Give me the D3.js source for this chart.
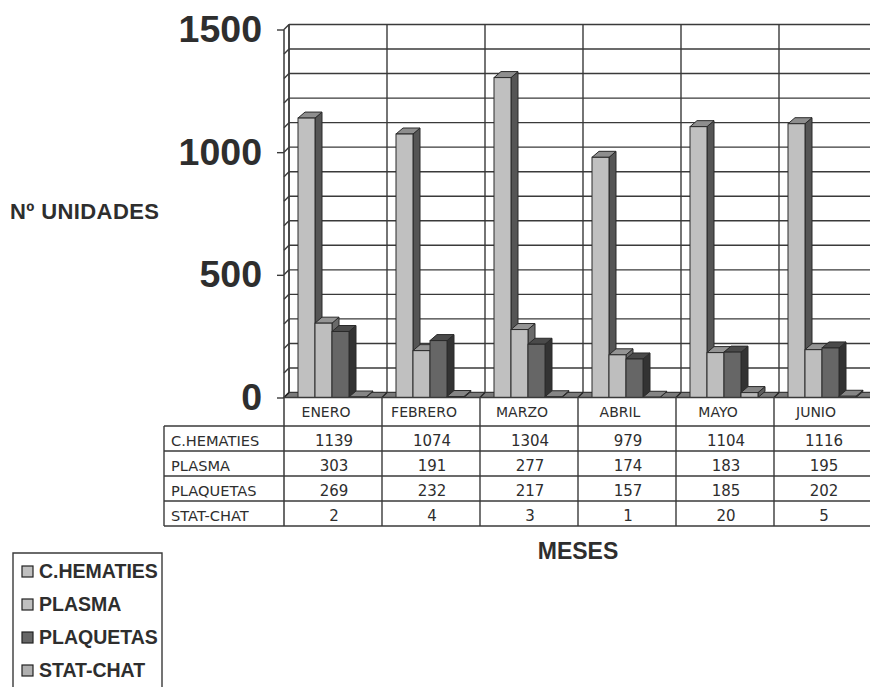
<!DOCTYPE html>
<html>
<head>
<meta charset="utf-8">
<script src="https://cdn.jsdelivr.net/npm/d3@7"></script>
<style>
  html, body { margin: 0; padding: 0; background: #fff; }
  svg { display: block; }
</style>
</head>
<body>
<div id="chart"></div>
<script>
// Monthly blood component units
const months = ["ENERO", "FEBRERO", "MARZO", "ABRIL", "MAYO", "JUNIO"];
const series = ["C.HEMATIES", "PLASMA", "PLAQUETAS", "STAT-CHAT"];
const hematies = [1139, 1074, 1304, 979, 1104, 1116];
const plasma = [303, 191, 277, 174, 183, 195];
const plaquetas = [269, 232, 217, 157, 185, 202];
const statChat = [2, 4, 3, 1, 20, 5];
const yTickLabels = [0, 500, 1000, 1500];

const values = [hematies, plasma, plaquetas, statChat];

// face shades per series: front, side, top
const shades = [
  { front: "#c0c0c0", side: "#555555", top: "#8e8e8e" },
  { front: "#bebebe", side: "#6a6a6a", top: "#959595" },
  { front: "#666666", side: "#333333", top: "#4a4a4a" },
  { front: "#b8b8b8", side: "#5c5c5c", top: "#858585" }
];
const legendSwatch = ["#c0c0c0", "#c0c0c0", "#666666", "#b0b0b0"];

const W = 870, H = 687;
const ink = "#2e2e2e";
const line = "#3a3a3a";

const svg = d3.select("#chart").append("svg")
  .attr("width", W).attr("height", H);

// geometry
const x0 = 284, colW = 98;
const wallDX = 5, wallDY = 5;     // depth of walls / floor
const barDX = 7, barDY = 6;       // depth of each column

const x = d3.scaleBand().domain(months).range([x0, x0 + colW * months.length]).padding(0);
const xs = d3.scaleBand().domain(series).range([14, 82]).padding(0);
const y = d3.scaleLinear().domain([0, 1500]).range([397.5, 29.5]);

const rightEdge = x0 + colW * months.length + wallDX;

// back wall
const g = svg.append("g");
g.append("rect")
  .attr("x", x0 + wallDX).attr("y", y(1500) - wallDY)
  .attr("width", rightEdge - x0 - wallDX).attr("height", y(0) - y(1500))
  .attr("fill", "#fff");

// horizontal gridlines on back wall
const minor = d3.range(0, 1501, 100);
g.selectAll(".hgrid").data(minor).join("line")
  .attr("x1", x0 + wallDX).attr("x2", rightEdge)
  .attr("y1", d => y(d) - wallDY).attr("y2", d => y(d) - wallDY)
  .attr("stroke", line).attr("stroke-width", 1.4);

// vertical gridlines on back wall (category boundaries)
const bounds = d3.range(0, months.length + 1).map(i => x0 + i * colW);
g.selectAll(".vgrid").data(bounds).join("line")
  .attr("x1", d => d + wallDX).attr("x2", d => d + wallDX)
  .attr("y1", y(1500) - wallDY).attr("y2", y(0) - wallDY)
  .attr("stroke", line).attr("stroke-width", 1.4);

// side wall: slanted marks at each 100
g.selectAll(".slant").data(minor).join("line")
  .attr("x1", x0).attr("x2", x0 + wallDX)
  .attr("y1", d => y(d)).attr("y2", d => y(d) - wallDY)
  .attr("stroke", line).attr("stroke-width", 1.4);

// floor
g.append("path")
  .attr("d", `M${x0},${y(0)} L${x0 + wallDX},${y(0) - wallDY} L${rightEdge},${y(0) - wallDY} L${rightEdge - wallDX},${y(0)} Z`)
  .attr("fill", "#7a7a7a").attr("stroke", line).attr("stroke-width", 1.2);
g.selectAll(".floorline").data(bounds).join("line")
  .attr("x1", d => d).attr("x2", d => d + wallDX)
  .attr("y1", y(0)).attr("y2", y(0) - wallDY)
  .attr("stroke", "#222").attr("stroke-width", 1.2);

// columns, drawn left to right so each front face covers its neighbour's side
const bars = [];
months.forEach((m, i) => {
  series.forEach((s, j) => {
    bars.push({ month: m, series: s, j, value: values[j][i] });
  });
});

const barG = svg.append("g");
bars.forEach(b => {
  const bx = x(b.month) + xs(b.series);
  const bw = xs.bandwidth();
  const top = y(b.value), base = y(0);
  const sh = shades[b.j];
  const grp = barG.append("g");
  // side face
  grp.append("path")
    .attr("d", `M${bx + bw},${base} L${bx + bw + barDX},${base - barDY} L${bx + bw + barDX},${top - barDY} L${bx + bw},${top} Z`)
    .attr("fill", sh.side).attr("stroke", "#2a2a2a").attr("stroke-width", 1);
  // top face
  grp.append("path")
    .attr("d", `M${bx},${top} L${bx + barDX},${top - barDY} L${bx + bw + barDX},${top - barDY} L${bx + bw},${top} Z`)
    .attr("fill", sh.top).attr("stroke", "#2a2a2a").attr("stroke-width", 1);
  // front face
  grp.append("rect")
    .attr("x", bx).attr("y", top).attr("width", bw).attr("height", base - top)
    .attr("fill", sh.front).attr("stroke", "#2a2a2a").attr("stroke-width", 1);
});

// left axis with major labels
const axis = d3.axisLeft(y).tickValues(yTickLabels).tickSize(7).tickPadding(15).tickFormat(d3.format("d"));
const axG = svg.append("g").attr("transform", `translate(${x0},0)`).call(axis);
axG.select(".domain").remove();
axG.selectAll(".tick line").attr("stroke", line).attr("stroke-width", 1.4);
axG.selectAll(".tick text")
  .attr("fill", ink)
  .style("font-family", "'Liberation Sans', Arial, sans-serif")
  .style("font-weight", "bold")
  .style("font-size", "37.5px");

// front vertical axis line, continuing as the table's left column border
svg.append("line")
  .attr("x1", x0).attr("x2", x0).attr("y1", y(1500)).attr("y2", 526)
  .attr("stroke", line).attr("stroke-width", 1.5);
svg.append("line")
  .attr("x1", x0 + wallDX).attr("x2", x0 + wallDX).attr("y1", y(1500) - wallDY).attr("y2", y(0) - wallDY)
  .attr("stroke", line).attr("stroke-width", 1.4);

// data table
const rowH = 25;
const tableTop = 426;
const headerX = 164;
const tbl = svg.append("g");
const tableFont = "'DejaVu Sans', Verdana, sans-serif";

// category row
tbl.append("line").attr("x1", x0).attr("x2", W).attr("y1", y(0)).attr("y2", y(0))
  .attr("stroke", line).attr("stroke-width", 1.4);
tbl.selectAll(".colline").data(bounds.slice(1)).join("line")
  .attr("x1", d => d).attr("x2", d => d)
  .attr("y1", y(0)).attr("y2", tableTop + rowH * series.length)
  .attr("stroke", line).attr("stroke-width", 1.4);
tbl.selectAll(".cat").data(months).join("text")
  .attr("x", d => x(d) + colW / 2 - 7)
  .attr("y", 417)
  .attr("text-anchor", "middle")
  .attr("fill", ink)
  .style("font-family", tableFont)
  .style("font-size", "14px")
  .text(d => d);

// row lines
tbl.selectAll(".rowline").data(d3.range(series.length + 1)).join("line")
  .attr("x1", headerX).attr("x2", W)
  .attr("y1", d => tableTop + d * rowH).attr("y2", d => tableTop + d * rowH)
  .attr("stroke", line).attr("stroke-width", 1.4);
tbl.append("line").attr("x1", headerX).attr("x2", headerX)
  .attr("y1", tableTop).attr("y2", tableTop + rowH * series.length)
  .attr("stroke", line).attr("stroke-width", 1.4);

series.forEach((s, j) => {
  const by = tableTop + j * rowH + 20;
  tbl.append("text")
    .attr("x", headerX + 7).attr("y", by)
    .attr("fill", ink)
    .style("font-family", tableFont).style("font-size", "14.6px")
    .text(s);
  tbl.selectAll(".v" + j).data(values[j]).join("text")
    .attr("x", (d, i) => x(months[i]) + colW / 2 + 1)
    .attr("y", by)
    .attr("text-anchor", "middle")
    .attr("fill", ink)
    .style("font-family", tableFont).style("font-size", "15px")
    .text(d => d);
});

// axis titles
svg.append("text")
  .attr("x", 10).attr("y", 218.5)
  .attr("fill", ink)
  .style("font-family", "'Liberation Sans', Arial, sans-serif")
  .style("font-weight", "bold").style("font-size", "22px")
  .style("letter-spacing", "0.4px")
  .text("Nº UNIDADES");
svg.append("text")
  .attr("x", 578).attr("y", 559)
  .attr("text-anchor", "middle")
  .attr("fill", ink)
  .style("font-family", "'Liberation Sans', Arial, sans-serif")
  .style("font-weight", "bold").style("font-size", "23px")
  .text("MESES");

// legend
const leg = svg.append("g");
leg.append("path")
  .attr("d", `M13,${H + 2} L13,553 L162,553 L162,${H + 2}`)
  .attr("fill", "none").attr("stroke", line).attr("stroke-width", 1.4);
series.forEach((s, j) => {
  const by = 578 + j * 33;
  leg.append("rect")
    .attr("x", 22).attr("y", by - 12).attr("width", 11).attr("height", 11)
    .attr("fill", legendSwatch[j]).attr("stroke", "#222").attr("stroke-width", 1.2);
  leg.append("text")
    .attr("x", 39).attr("y", by)
    .attr("fill", ink)
    .style("font-family", "'Liberation Sans', Arial, sans-serif")
    .style("font-weight", "bold").style("font-size", "19.5px")
    .text(s);
});
</script>
</body>
</html>
